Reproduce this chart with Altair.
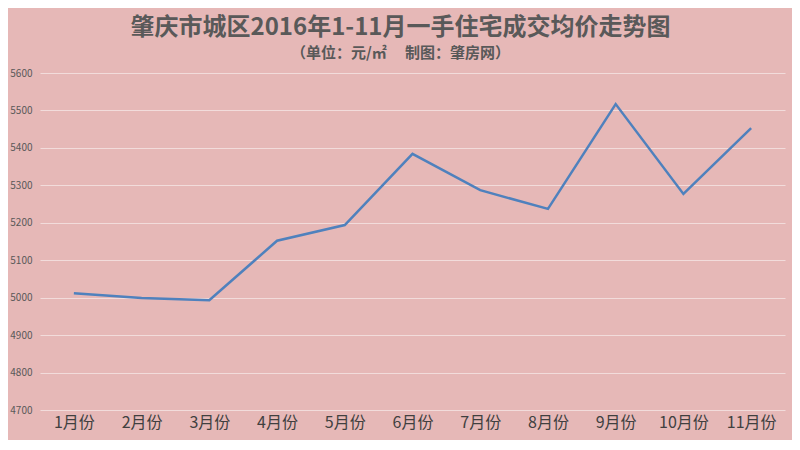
import altair as alt
import pandas as pd

months = ["1月份", "2月份", "3月份", "4月份", "5月份", "6月份", "7月份", "8月份", "9月份", "10月份", "11月份"]
prices = [5012, 4999, 4993, 5152, 5194, 5384, 5287, 5237, 5517, 5277, 5453]

df = pd.DataFrame({"month": months, "price": prices})

font = "Noto Sans CJK SC"

chart = alt.Chart(df).mark_line(color="#4F81BD", strokeWidth=2.5).encode(
    x=alt.X("month:N", sort=months, title=None,
            scale=alt.Scale(paddingInner=0, paddingOuter=0.5),
            axis=alt.Axis(labelAngle=0, labelFont=font, labelFontSize=16,
                          labelColor="#404040", domain=False, ticks=False,
                          labelPadding=4, grid=False)),
    y=alt.Y("price:Q", title=None,
            scale=alt.Scale(domain=[4700, 5600], nice=False, zero=False),
            axis=alt.Axis(values=list(range(4700, 5601, 100)), format="d",
                          labelFont=font, labelFontSize=10, labelColor="#595959",
                          domain=False, ticks=False, labelPadding=8,
                          gridColor="#F2DCDB", gridWidth=1)),
).properties(
    width=745,
    height=337,
    background="#E6B8B7",
    autosize=alt.AutoSizeParams(type="none"),
    padding={"left": 32, "top": 65, "right": 7, "bottom": 30},
    title=alt.TitleParams(
        text="肇庆市城区2016年1-11月一手住宅成交均价走势图",
        subtitle="（单位：元/㎡　 制图：肇房网）",
        font=font, fontSize=24, fontWeight="bold", color="#595959",
        subtitleFont=font, subtitleFontSize=15, subtitleFontWeight="bold",
        subtitleColor="#595959", anchor="middle", dx=-12, offset=7,
        subtitlePadding=6,
    ),
).configure_view(stroke=None)

chart.save("out.html", embed_options={"renderer": "svg", "actions": False})
